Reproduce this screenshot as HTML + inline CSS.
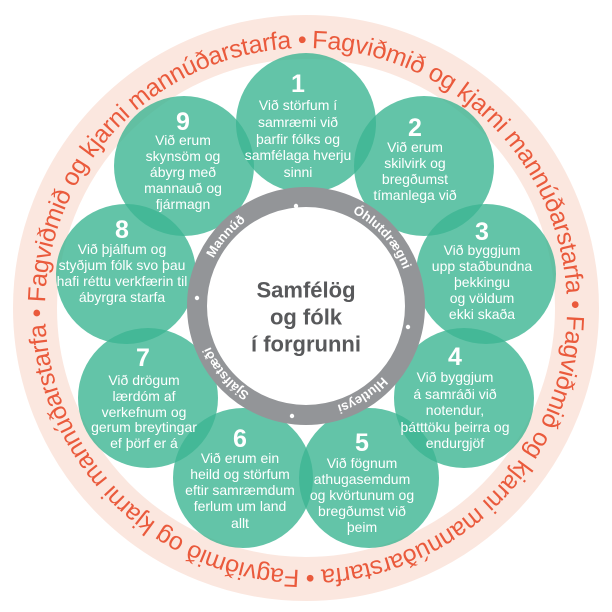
<!DOCTYPE html>
<html><head><meta charset="utf-8"><style>
html,body{margin:0;padding:0;background:#fff;}
svg{display:block;}
.n{font-family:"Liberation Sans",sans-serif;font-weight:bold;font-size:25px;fill:#fff;text-anchor:middle;dominant-baseline:central;}
.t{font-family:"Liberation Sans",sans-serif;font-size:14px;fill:#fff;text-anchor:middle;dominant-baseline:central;}
.o{font-family:"Liberation Sans",sans-serif;font-size:25px;fill:#ea5a3c;}
.g{font-family:"Liberation Sans",sans-serif;font-size:13px;font-weight:bold;fill:#fff;text-anchor:middle;}
.c{font-family:"Liberation Sans",sans-serif;font-size:22px;font-weight:bold;fill:#58595b;text-anchor:middle;dominant-baseline:central;}
</style></head><body>
<svg width="612" height="612" viewBox="0 0 612 612" xmlns="http://www.w3.org/2000/svg">
<defs>
<path id="op" d="M306,48 A261,261 0 1 1 305.99,48 Z"/>
<path id="ip" d="M306,202 A104,104 0 1 1 305.99,202 Z"/>
</defs>
<circle cx="306" cy="308" r="271" fill="none" stroke="#fbe7df" stroke-width="44"/>
<text class="o"><textPath href="#op" startOffset="6" textLength="404" lengthAdjust="spacing">Fagviðmið og kjarni mannúðarstarfa •</textPath></text>
<text class="o"><textPath href="#op" startOffset="416" textLength="404" lengthAdjust="spacing">Fagviðmið og kjarni mannúðarstarfa •</textPath></text>
<text class="o"><textPath href="#op" startOffset="826" textLength="404" lengthAdjust="spacing">Fagviðmið og kjarni mannúðarstarfa •</textPath></text>
<text class="o"><textPath href="#op" startOffset="1236" textLength="404" lengthAdjust="spacing">Fagviðmið og kjarni mannúðarstarfa •</textPath></text>
<g fill="#3cb592" fill-opacity="0.8">
<circle cx="306" cy="123" r="70"/>
<circle cx="424" cy="166" r="70"/>
<circle cx="486" cy="274" r="70"/>
<circle cx="464" cy="398" r="70"/>
<circle cx="369" cy="478" r="70"/>
<circle cx="243" cy="478" r="70"/>
<circle cx="148" cy="398" r="70"/>
<circle cx="126" cy="274" r="70"/>
<circle cx="184" cy="166" r="70"/>
</g>
<circle cx="306" cy="306" r="109" fill="#fff" stroke="#939598" stroke-width="20"/>
<g fill="#fff">
<circle cx="296" cy="206" r="2.2"/><circle cx="408" cy="327" r="2.2"/><circle cx="292" cy="416" r="2.2"/><circle cx="197" cy="298" r="2.2"/>
</g>
<text class="g" text-anchor="middle"><textPath href="#ip" startOffset="564">Mannúð</textPath></text>
<text class="g" text-anchor="middle"><textPath href="#ip" startOffset="87">Óhlutdrægni</textPath></text>
<text class="g" text-anchor="middle"><textPath href="#ip" startOffset="268">Hlutleysi</textPath></text>
<text class="g" text-anchor="middle"><textPath href="#ip" startOffset="417">Sjálfstæði</textPath></text>
<text class="c" x="306" y="290">Samfélög</text>
<text class="c" x="306" y="317">og fólk</text>
<text class="c" x="306" y="344">í forgrunni</text>

<text class="n" x="298" y="84">1</text>
<text class="t" x="298" y="105">Við störfum í</text><text class="t" x="298" y="122">samræmi við</text><text class="t" x="298" y="139">þarfir fólks og</text><text class="t" x="298" y="155">samfélaga hverju</text><text class="t" x="298" y="172">sinni</text>

<text class="n" x="415" y="128">2</text>
<text class="t" x="415" y="147">Við erum</text><text class="t" x="415" y="163">skilvirk og</text><text class="t" x="415" y="179">bregðumst</text><text class="t" x="415" y="195">tímanlega við</text>

<text class="n" x="482" y="232">3</text>
<text class="t" x="482" y="250">Við byggjum</text><text class="t" x="482" y="266">upp staðbundna</text><text class="t" x="482" y="282">þekkingu</text><text class="t" x="482" y="298">og völdum</text><text class="t" x="482" y="314">ekki skaða</text>

<text class="n" x="455" y="357">4</text>
<text class="t" x="455" y="377">Við byggjum</text><text class="t" x="455" y="394">á samráði við</text><text class="t" x="455" y="410">notendur,</text><text class="t" x="455" y="427">þátttöku þeirra og</text><text class="t" x="455" y="443">endurgjöf</text>

<text class="n" x="362" y="443">5</text>
<text class="t" x="362" y="463">Við fögnum</text><text class="t" x="362" y="479">athugasemdum</text><text class="t" x="362" y="495">og kvörtunum og</text><text class="t" x="362" y="511">bregðumst við</text><text class="t" x="362" y="527">þeim</text>

<text class="n" x="240" y="439">6</text>
<text class="t" x="240" y="458">Við erum ein</text><text class="t" x="240" y="474">heild og störfum</text><text class="t" x="240" y="490">eftir samræmdum</text><text class="t" x="240" y="506">ferlum um land</text><text class="t" x="240" y="523">allt</text>

<text class="n" x="143" y="358">7</text>
<text class="t" x="144" y="380">Við drögum</text><text class="t" x="144" y="396">lærdóm af</text><text class="t" x="144" y="412">verkefnum og</text><text class="t" x="144" y="427">gerum breytingar</text><text class="t" x="144" y="443">ef þörf er á</text>

<text class="n" x="122" y="230">8</text>
<text class="t" x="122" y="249">Við þjálfum og</text><text class="t" x="122" y="265">styðjum fólk svo þau</text><text class="t" x="122" y="281">hafi réttu verkfærin til</text><text class="t" x="122" y="297">ábyrgra starfa</text>

<text class="n" x="183" y="122">9</text>
<text class="t" x="183" y="140">Við erum</text><text class="t" x="183" y="156">skynsöm og</text><text class="t" x="183" y="172">ábyrg með</text><text class="t" x="183" y="188">mannauð og</text><text class="t" x="183" y="204">fjármagn</text>
</svg>
</body></html>
